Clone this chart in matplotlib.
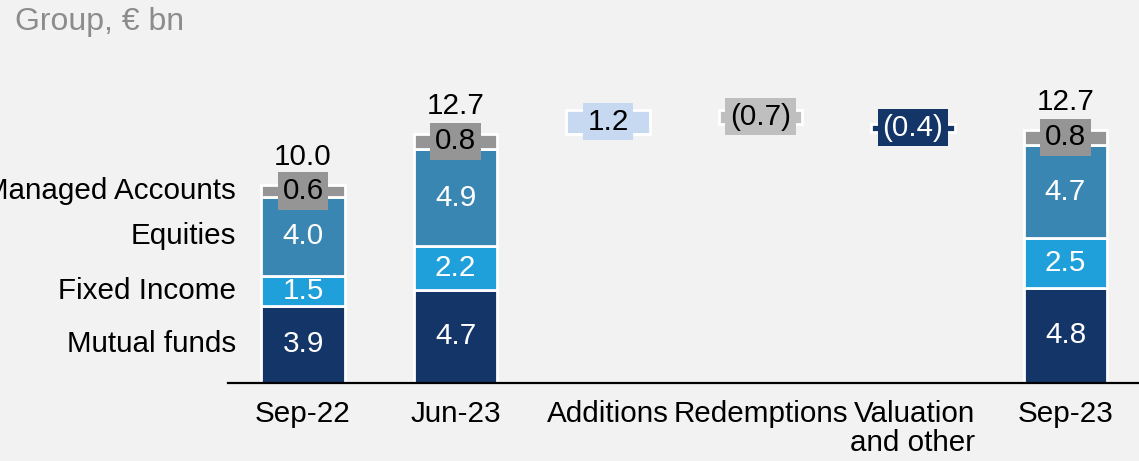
import matplotlib
matplotlib.use("Agg")
import matplotlib.pyplot as plt
import matplotlib.transforms as mtransforms

plt.rcParams['font.family'] = ['Liberation Sans', 'DejaVu Sans']

# ---- data ----
categories = ["Sep-22", "Jun-23", "Additions", "Redemptions", "Valuation\nand other", "Sep-23"]
stack_names = ["Mutual funds", "Fixed Income", "Equities", "Managed Accounts"]
stack_periods = ["Sep-22", "Jun-23", "Sep-23"]
mutual_funds = [3.9, 4.7, 4.8]
fixed_income = [1.5, 2.2, 2.5]
equities = [4.0, 4.9, 4.7]
managed_accounts = [0.6, 0.8, 0.8]
totals_labels = ["10.0", "12.7", "12.7"]
flow_names = ["Additions", "Redemptions", "Valuation\nand other"]
flow_values = [1.2, -0.7, -0.4]
flow_labels = ["1.2", "(0.7)", "(0.4)"]

# ---- style ----
BG = "#f2f2f2"
c_mf = "#133568"
c_fi = "#1fa0da"
c_eq = "#3a86b2"
c_ma = "#959595"
flow_colors = ["#c6d9f0", "#bfbfbf", "#133568"]
flow_text = ["black", "black", "white"]
FS = 21.3

fig = plt.figure(figsize=(11.39, 4.61), dpi=100, facecolor=BG)
ax = fig.add_axes([228/1139, 78/461, 1 - 228/1139, 1 - 78/461])
ax.set_facecolor(BG)
ax.patch.set_alpha(0)

xpos = {c: i for i, c in enumerate(categories)}
W = 0.55

stack_series = [mutual_funds, fixed_income, equities, managed_accounts]
stack_colors = [c_mf, c_fi, c_eq, c_ma]
stack_txt = ["white", "white", "white", "black"]

for j, period in enumerate(stack_periods):
    x = xpos[period]
    bottom = 0.0
    for s, (vals, col, tc) in enumerate(zip(stack_series, stack_colors, stack_txt)):
        v = vals[j]
        ax.bar(x, v, width=W, bottom=bottom, color=col, edgecolor="white", linewidth=2, zorder=2)
        if s == 3:
            ax.text(x, bottom + v / 2, f"{v:.1f}", ha="center", va="center", fontsize=FS, color=tc,
                    zorder=4, bbox=dict(boxstyle="square,pad=0.16", fc=col, ec="none"))
        else:
            ax.text(x, bottom + v / 2, f"{v:.1f}", ha="center", va="center", fontsize=FS, color=tc, zorder=4)
        if j == 0:
            ax.text(-0.44, bottom + v / 2, stack_names[s], ha="right", va="center", fontsize=FS,
                    color="black", clip_on=False)
        bottom += v
    ax.annotate(totals_labels[j], (x, bottom), xytext=(0, 20), textcoords="offset points",
                ha="center", va="center", fontsize=FS, color="black")

# waterfall
level = sum(v[1] for v in stack_series)
for k, name in enumerate(flow_names):
    x = xpos[name]
    v = flow_values[k]
    lo = level if v > 0 else level + v
    ax.bar(x, abs(v), width=W, bottom=lo, color=flow_colors[k], edgecolor="white", linewidth=2, zorder=2)
    ax.text(x, lo + abs(v) / 2, flow_labels[k], ha="center", va="center", fontsize=FS,
            color=flow_text[k], zorder=4,
            bbox=dict(boxstyle="square,pad=0.16", fc=flow_colors[k], ec="none"))
    level += v

ax.set_xlim(-0.492, 5.482)
ax.set_ylim(0, 383 / 19.8)

for sp in ["top", "right", "left"]:
    ax.spines[sp].set_visible(False)
ax.spines["bottom"].set_color("black")
ax.spines["bottom"].set_linewidth(1.6)
ax.set_yticks([])
ax.set_xticks([])

trans = mtransforms.blended_transform_factory(ax.transData, ax.transAxes)
for c in categories:
    x = xpos[c]
    if "\n" in c:
        ax.annotate(c, (x, 0), xycoords=trans, xytext=(45, -12), textcoords="offset points",
                    ha="right", va="top", fontsize=FS, linespacing=1.08, multialignment="right")
    else:
        ax.annotate(c, (x, 0), xycoords=trans, xytext=(0, -12), textcoords="offset points",
                    ha="center", va="top", fontsize=FS)

fig.text(15/1139, 1 - 22/461, "Group, € bn", ha="left", va="center", fontsize=23, color="#8c8c8c")

fig.savefig("out.png", dpi=100, facecolor=BG)
